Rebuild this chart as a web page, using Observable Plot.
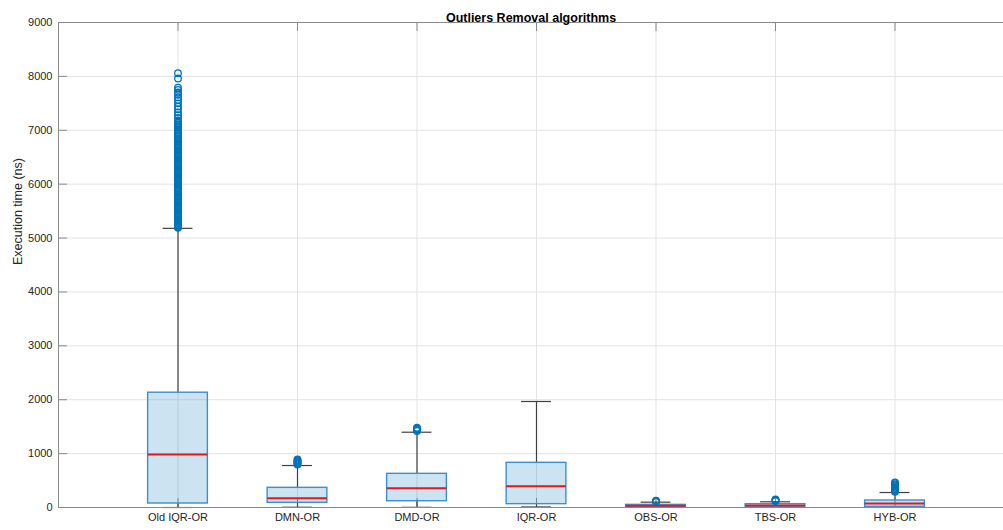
<!DOCTYPE html>
<html>
<head>
<meta charset="utf-8">
<script src="https://cdn.jsdelivr.net/npm/d3@7"></script>
<script src="https://cdn.jsdelivr.net/npm/@observablehq/plot@0.6"></script>
<style>
  html, body { margin: 0; padding: 0; background: #fff; overflow: hidden; }
  #chart svg { display: block; font-family: "Liberation Sans", Arial, Helvetica, sans-serif; }
</style>
</head>
<body>
<div id="chart"></div>
<script>
// ---- data ----
const categories = ["Old IQR-OR", "DMN-OR", "DMD-OR", "IQR-OR", "OBS-OR", "TBS-OR", "HYB-OR"];
const whiskerLow  = [0,    5,   3,   10,  5,   8,   10];
const q1          = [74,   87,  117, 62,  6,   10,  12];
const median      = [983,  173, 358, 396, 31,  36,  74];
const q3          = [2130, 365, 625, 829, 49,  62,  130];
const whiskerHigh = [5180, 779, 1397, 1967, 99, 106, 278];
const outliers = [
  [8060, 7960, 7790, 7750, 7700, 7660, 7610, 7560, 7500, 7440, 7390, 7330, 7280, 7230, 7180,
   7140, 7110, 7090, 7060, 7040, 7010, 6990, 6960, 6940, 6910, 6880, 6850, 6830, 6800, 6780,
   6750, 6720, 6700, 6670, 6650, 6620, 6600, 6570, 6550, 6520, 6500, 6470, 6450, 6420, 6400,
   6370, 6350, 6320, 6300, 6270, 6250, 6220, 6200, 6170, 6150, 6120, 6100, 6070, 6050, 6020,
   6000, 5970, 5950, 5920, 5900, 5870, 5850, 5820, 5800, 5770, 5750, 5720, 5700, 5670, 5650,
   5620, 5600, 5570, 5550, 5520, 5500, 5470, 5450, 5420, 5400, 5370, 5350, 5320, 5300, 5280,
   5260, 5240, 5220, 5205, 5190],
  [800, 815, 830, 845, 860, 875, 890],
  [1420, 1440, 1460, 1480],
  [],
  [105, 115, 125],
  [120, 130, 140, 150],
  [290, 310, 330, 350, 370, 390, 410, 430, 450, 465]
];
const yTicks = [0, 1000, 2000, 3000, 4000, 5000, 6000, 7000, 8000, 9000];
const titleText = "Outliers Removal algorithms";
const yLabel = "Execution time (ns)";

// ---- tables built from the arrays ----
const rows = categories.map((c, i) => ({
  name: c, pos: i + 1,
  lo: whiskerLow[i], q1: q1[i], med: median[i], q3: q3[i], hi: whiskerHigh[i]
}));
const outlierRows = outliers.flatMap((vals, i) => vals.map(v => ({pos: i + 1, v})));
const positions = rows.map(d => d.pos);

const boxHalf = 0.25, capHalf = 0.125, tickLen = 0.075;
const blue = "#0072BD";

const chart = Plot.plot({
  width: 1003,
  height: 530,
  marginTop: 22,
  marginBottom: 23,
  marginLeft: 58,
  marginRight: 0,
  style: {fontFamily: '"Liberation Sans", Arial, Helvetica, sans-serif', fontSize: "11px", color: "#262626", background: "#fff"},
  x: {type: "linear", domain: [0, 8], range: [58, 1014]},
  y: {domain: [0, 9000], range: [507, 22]},
  marks: [
    // grid
    Plot.ruleY(yTicks.filter(t => t > 0 && t < 9000), {y: d => d, x1: 0, x2: 8, stroke: "#e3e3e3", strokeWidth: 1}),
    Plot.ruleX(positions, {x: d => d, y1: 0, y2: 9000, stroke: "#e3e3e3", strokeWidth: 1}),
    // frame
    Plot.ruleX([0], {y1: 0, y2: 9000, stroke: "#8a8a8a", strokeWidth: 1}),
    Plot.ruleY([9000], {x1: 0, x2: 8, stroke: "#8a8a8a", strokeWidth: 1}),
    // inside ticks
    Plot.ruleY(yTicks, {y: d => d, x1: 0, x2: tickLen, stroke: "#8a8a8a"}),
    Plot.ruleX(positions, {x: d => d, y1: 0, y2: 9000 * 9 / 485, stroke: "#8a8a8a"}),
    Plot.ruleX(positions, {x: d => d, y1: 9000, y2: 9000 - 9000 * 9 / 485, stroke: "#8a8a8a"}),
    // whiskers
    Plot.ruleX(rows, {x: "pos", y1: "q3", y2: "hi", stroke: "#404040", strokeWidth: 1.2}),
    Plot.ruleX(rows, {x: "pos", y1: "lo", y2: "q1", stroke: "#404040", strokeWidth: 1.2}),
    Plot.ruleY(rows, {y: "hi", x1: d => d.pos - capHalf, x2: d => d.pos + capHalf, stroke: "#404040", strokeWidth: 1.2}),
    Plot.ruleY(rows, {y: "lo", x1: d => d.pos - capHalf, x2: d => d.pos + capHalf, stroke: "#404040", strokeWidth: 1.2}),
    // boxes
    Plot.rect(rows, {x1: d => d.pos - boxHalf, x2: d => d.pos + boxHalf, y1: "q1", y2: "q3",
      fill: blue, fillOpacity: 0.2, stroke: "#3b8fd0", strokeWidth: 1.4}),
    // medians
    Plot.ruleY(rows, {y: "med", x1: d => d.pos - boxHalf, x2: d => d.pos + boxHalf, stroke: "#e8161b", strokeWidth: 2}),
    // outliers
    Plot.dot(outlierRows, {x: "pos", y: "v", r: 3.3, stroke: blue, strokeWidth: 1.3, fill: "none"}),
    // bottom axis line
    Plot.ruleY([0], {x1: 0, x2: 8, stroke: "#8a8a8a", strokeWidth: 1}),
    // axes labels
    Plot.axisY(yTicks, {tickSize: 0, tickPadding: 6, label: null, fontSize: 11, fill: "#262626", tickFormat: d3.format("d")}),
    Plot.axisX(positions, {tickSize: 0, tickPadding: 6, label: null, fontSize: 11, fill: "#262626",
      tickFormat: p => categories[p - 1]}),
    Plot.text([yLabel], {frameAnchor: "left", rotate: -90, dx: -41, text: d => d, fontSize: 12.5, fill: "#262626"}),
    Plot.text([titleText], {frameAnchor: "top", dy: -9, text: d => d, fontSize: 12.5, fontWeight: "bold", fill: "#000"})
  ]
});
document.getElementById("chart").appendChild(chart);
</script>
</body>
</html>
